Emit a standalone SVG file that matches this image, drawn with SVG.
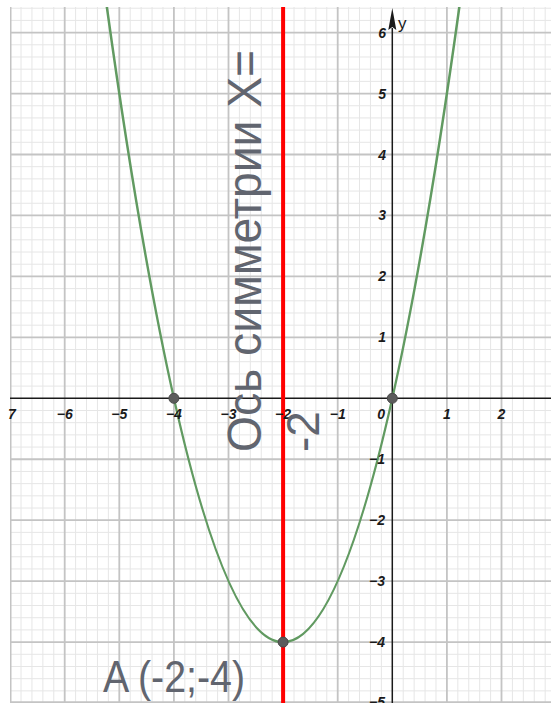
<svg xmlns="http://www.w3.org/2000/svg" width="551" height="703" viewBox="0 0 551 703">
<defs>
<style>
.minor{stroke:#e6e6e6;stroke-width:1;fill:none}
.major{stroke:#c4c4c4;stroke-width:1.8;fill:none}
.axis{stroke:#1a1a1a;stroke-width:1.5;fill:none}
.tick{font-family:"Liberation Sans",Arial,sans-serif;font-size:14px;font-style:italic;font-weight:bold;fill:#1a1a1a}
.xt{text-anchor:middle}
.yt{text-anchor:end}
.big{font-family:"Liberation Sans",Arial,sans-serif;fill:#61656f}
.pt{fill:#5c5c5c;stroke:#4a4a4a;stroke-width:1}
</style>
<clipPath id="plot"><rect x="10" y="7" width="541" height="696"/></clipPath>
</defs>
<rect x="0" y="0" width="551" height="703" fill="#ffffff"/>
<g id="grid" clip-path="url(#plot)">
<path class="minor" d="M21.02 0V703M31.94 0V703M42.86 0V703M53.78 0V703M75.62 0V703M86.54 0V703M97.46 0V703M108.38 0V703M130.22 0V703M141.14 0V703M152.06 0V703M162.98 0V703M184.82 0V703M195.74 0V703M206.66 0V703M217.58 0V703M239.42 0V703M250.34 0V703M261.26 0V703M272.18 0V703M294.02 0V703M304.94 0V703M315.86 0V703M326.78 0V703M348.62 0V703M359.54 0V703M370.46 0V703M381.38 0V703M403.22 0V703M414.14 0V703M425.06 0V703M435.98 0V703M457.82 0V703M468.74 0V703M479.66 0V703M490.58 0V703M512.42 0V703M523.34 0V703M534.26 0V703M545.18 0V703"/>
<path class="minor" d="M0 8.22H551M0 20.41H551M0 44.79H551M0 56.98H551M0 69.17H551M0 81.36H551M0 105.74H551M0 117.93H551M0 130.12H551M0 142.31H551M0 166.69H551M0 178.88H551M0 191.07H551M0 203.26H551M0 227.64H551M0 239.83H551M0 252.02H551M0 264.21H551M0 288.59H551M0 300.78H551M0 312.97H551M0 325.16H551M0 349.54H551M0 361.73H551M0 373.92H551M0 386.11H551M0 410.49H551M0 422.68H551M0 434.87H551M0 447.06H551M0 471.44H551M0 483.63H551M0 495.82H551M0 508.01H551M0 532.39H551M0 544.58H551M0 556.77H551M0 568.96H551M0 593.34H551M0 605.53H551M0 617.72H551M0 629.91H551M0 654.29H551M0 666.48H551M0 678.67H551M0 690.86H551"/>
<path class="major" d="M10.6 0V703M64.7 0V703M119.3 0V703M173.9 0V703M228.5 0V703M283.1 0V703M337.7 0V703M446.9 0V703M501.5 0V703"/>
<path class="major" d="M0 32.6H551M0 93.55H551M0 154.5H551M0 215.45H551M0 276.4H551M0 337.35H551M0 459.25H551M0 520.2H551M0 581.15H551M0 642.1H551M0 702.2H551"/>
</g>
<g id="axes">
<path class="axis" d="M10 398.3H551"/>
<path class="axis" d="M392.3 703V28"/>
<polygon points="392.3,8 396.3,30 392.3,27 388.3,30" fill="#1a1a1a"/>
<text x="398" y="29" font-family="Liberation Sans,Arial,sans-serif" font-size="17" fill="#1a1a1a">y</text>
</g>
<g id="parabola" clip-path="url(#plot)">
<path d="M102.92 -21.65Q283.1 1305.85 463.28 -21.65" fill="none" stroke="#619a61" stroke-width="2.5"/>
</g>
<g id="axis-of-symmetry" clip-path="url(#plot)">
<path d="M283.1 0V703" stroke="#ff0000" stroke-width="4" fill="none"/>
</g>
<g id="tick-labels">
<text class="tick" x="8" y="419">7</text>
<text class="tick xt" x="64.7" y="419">−6</text>
<text class="tick xt" x="119.3" y="419">−5</text>
<text class="tick xt" x="173.9" y="419">−4</text>
<text class="tick xt" x="228.5" y="419">−3</text>
<text class="tick xt" x="283.1" y="419">−2</text>
<text class="tick xt" x="337.7" y="419">−1</text>
<text class="tick yt" x="385" y="419">0</text>
<text class="tick xt" x="446.9" y="419">1</text>
<text class="tick xt" x="501.5" y="419">2</text>
<text class="tick yt" x="386" y="37.6">6</text>
<text class="tick yt" x="386" y="98.5">5</text>
<text class="tick yt" x="386" y="159.5">4</text>
<text class="tick yt" x="386" y="220.4">3</text>
<text class="tick yt" x="386" y="281.4">2</text>
<text class="tick yt" x="386" y="342.3">1</text>
<text class="tick yt" x="385" y="464.2">−1</text>
<text class="tick yt" x="385" y="525.2">−2</text>
<text class="tick yt" x="385" y="586.1">−3</text>
<text class="tick yt" x="385" y="647.1">−4</text>
<text class="tick yt" x="385" y="707">−5</text>
</g>
<g id="points">
<circle class="pt" cx="173.9" cy="398.3" r="5"/>
<circle class="pt" cx="392.3" cy="398.3" r="5"/>
<circle class="pt" cx="283.1" cy="642.1" r="5"/>
</g>
<g id="symmetry-label" transform="translate(261,452) rotate(-90)">
<text class="big" x="0" y="0" font-size="48" textLength="402" lengthAdjust="spacingAndGlyphs">Ось симметрии X=</text>
<text class="big" x="0" y="58" font-size="46">-2</text>
</g>
<g id="vertex-label">
<text class="big" x="103" y="692" font-size="44" textLength="142" lengthAdjust="spacingAndGlyphs">A (-2;-4)</text>
</g>
</svg>
